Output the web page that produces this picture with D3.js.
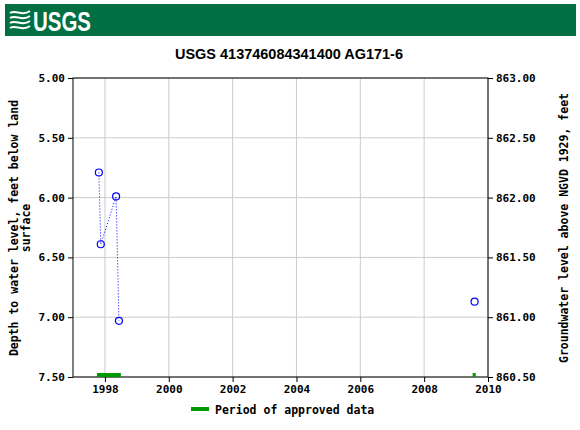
<!DOCTYPE html><html><head><meta charset="utf-8"><script src="https://d3js.org/d3.v7.min.js"></script>
<style>body{margin:0;background:#fff}</style></head><body><script>
const years=[1997.81,1997.87,1998.35,1998.44,2009.58];
const depths=[5.79,6.39,5.99,7.03,6.87];
const approved=[[1997.75,1998.5],[2009.52,2009.6]];
const xTicks=[1998,2000,2002,2004,2006,2008,2010];
const yTicks=[5.0,5.5,6.0,6.5,7.0,7.5];
const rTicks=[863.0,862.5,862.0,861.5,861.0,860.5];
const W=580,H=430,m={l:73,r:92,t:78,b:53};
const svg=d3.select("body").append("svg").attr("width",W).attr("height",H);
svg.append("rect").attr("x",5).attr("y",4).attr("width",571).attr("height",32).attr("fill","#006F41");
const lg=svg.append("g").attr("transform","translate(10,9)");
for(let i=0;i<4;i++)lg.append("path").attr("d",`M0,${4+i*5} C6,${i*5} 12,${8+i*5} 20,${2+i*5}`).attr("stroke","#fff").attr("stroke-width",2).attr("fill","none");
svg.append("text").attr("x",33).attr("y",31).text("USGS").attr("fill","#fff").attr("font-family","Liberation Sans").attr("font-weight","bold").attr("font-size",28).attr("textLength",58).attr("lengthAdjust","spacingAndGlyphs");
const x=d3.scaleLinear().domain([1997,2010]).range([m.l,W-m.r]);
const y=d3.scaleLinear().domain([5,7.5]).range([m.t,H-m.b]);
const yr=d3.scaleLinear().domain([863,860.5]).range([m.t,H-m.b]);
const g=svg.append("g");
xTicks.forEach(t=>g.append("line").attr("x1",x(t)).attr("x2",x(t)).attr("y1",m.t).attr("y2",H-m.b).attr("stroke","#ccc"));
yTicks.forEach(t=>g.append("line").attr("y1",y(t)).attr("y2",y(t)).attr("x1",m.l).attr("x2",W-m.r).attr("stroke","#ccc"));
svg.append("rect").attr("x",m.l).attr("y",m.t).attr("width",W-m.l-m.r).attr("height",H-m.t-m.b).attr("fill","none").attr("stroke","#000");
const mono="DejaVu Sans Mono";
svg.append("g").attr("transform",`translate(0,${H-m.b})`).call(d3.axisBottom(x).tickValues(xTicks).tickFormat(d3.format("d")).tickSize(5)).call(a=>{a.select(".domain").remove();a.selectAll("text").attr("font-family",mono).attr("font-size",11).attr("font-weight","bold")});
svg.append("g").attr("transform",`translate(${m.l},0)`).call(d3.axisLeft(y).tickValues(yTicks).tickFormat(d3.format(".2f")).tickSize(5)).call(a=>{a.select(".domain").remove();a.selectAll("text").attr("font-family",mono).attr("font-size",11).attr("font-weight","bold")});
svg.append("g").attr("transform",`translate(${W-m.r},0)`).call(d3.axisRight(yr).tickValues(rTicks).tickFormat(d3.format(".2f")).tickSize(5)).call(a=>{a.select(".domain").remove();a.selectAll("text").attr("font-family",mono).attr("font-size",11).attr("font-weight","bold")});
svg.append("text").attr("x",175).attr("y",59).text("USGS 413746084341400 AG171-6").attr("font-family","Liberation Sans").attr("font-weight","bold").attr("font-size",15.5).attr("textLength",228).attr("lengthAdjust","spacingAndGlyphs");
const lt=svg.append("text").attr("transform","translate(18,228) rotate(-90)").attr("text-anchor","middle").attr("font-family",mono).attr("font-size",11.5).attr("font-weight","bold");
lt.append("tspan").attr("x",0).attr("dy",0).text("Depth to water level, feet below land");
lt.append("tspan").attr("x",0).attr("dy",12).text("surface");
svg.append("text").attr("transform","translate(568,228) rotate(-90)").attr("text-anchor","middle").attr("font-family",mono).attr("font-size",11.5).attr("font-weight","bold").text("Groundwater level above NGVD 1929, feet");
const pts=years.map((d,i)=>[d,depths[i]]);
svg.append("path").datum(pts.slice(0,4)).attr("d",d3.line().x(d=>x(d[0])).y(d=>y(d[1]))).attr("fill","none").attr("stroke","#00f").attr("stroke-dasharray","1,2");
svg.selectAll("circle").data(pts).join("circle").attr("cx",d=>x(d[0])).attr("cy",d=>y(d[1])).attr("r",3.5).attr("fill","none").attr("stroke","#00f").attr("stroke-width",1.2);
approved.forEach(a=>svg.append("rect").attr("x",x(a[0])).attr("y",H-m.b-4).attr("width",Math.max(3,x(a[1])-x(a[0]))).attr("height",4).attr("fill","#009900"));
svg.append("rect").attr("x",191).attr("y",407).attr("width",18).attr("height",4).attr("fill","#009900");
svg.append("text").attr("x",215).attr("y",414).text("Period of approved data").attr("font-family",mono).attr("font-size",11.5).attr("font-weight","bold");
</script></body></html>
